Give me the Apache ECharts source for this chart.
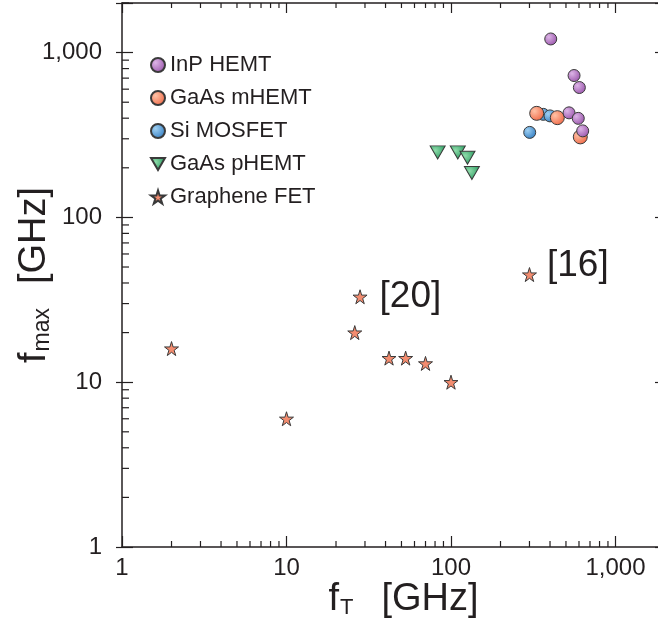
<!doctype html>
<html>

<head>
    <meta charset="utf-8">
    <title>fT vs fmax</title>
    <script src="https://cdn.jsdelivr.net/npm/echarts@6/dist/echarts.min.js"></script>
</head>

<body style="margin:0;">
    <div id="container" style="width:658px;height:623px;background:white;"></div>

    <script type="text/javascript">
        // 各器件的 fT / fmax (GHz)
        var inpFt = [404, 560, 603, 522, 594, 632];
        var inpFmax = [1210, 726, 614, 431, 399, 335];
        var mhemtFt = [332, 443, 611];
        var mhemtFmax = [428, 403, 308];
        var siFt = [364, 400, 301];
        var siFmax = [422, 413, 328];
        var phemtFt = [83, 110, 126, 134];
        var phemtFmax = [248, 248, 230, 186];
        var grapheneFt = [2, 10, 28, 26, 42, 53, 70, 100, 300];
        var grapheneFmax = [16, 6, 33, 20, 14, 14, 13, 10, 45];
        var grapheneRefs = ['', '', '[20]', '', '', '', '', '', '[16]'];
        // 坐标轴刻度标签
        var tickValues = [1, 10, 100, 1000];

        var ink = '#231f20';
        var font = '"Liberation Sans", Arial, sans-serif';
        var starPath = 'path://M50,0 L61,35 L98,35 L68,57 L79,91 L50,70 L21,91 L32,57 L2,35 L39,35 Z';
        var downTriangle = 'path://M0,0 L20,0 L10,17 Z';
        // 引用标签相对位置
        var refOffset = { '[20]': [2, 0], '[16]': [0, -9] };

        function pairs(xs, ys, refs) {
            var out = [];
            for (var i = 0; i < xs.length; i++) {
                var item = { value: [xs[i], ys[i]] };
                if (refs && refs[i]) {
                    item.label = { show: true, formatter: refs[i], offset: refOffset[refs[i]] };
                }
                out.push(item);
            }
            return out;
        }

        function ball(c1, c2) {
            return new echarts.graphic.RadialGradient(0.35, 0.35, 0.75, [
                { offset: 0, color: c1 }, { offset: 1, color: c2 }
            ]);
        }

        function tickLabel(v) {
            var r = Math.round(v);
            return tickValues.indexOf(r) >= 0 ? r.toLocaleString('en-US') : '';
        }

        function style(extra) {
            var s = { borderColor: '#3a3a3a', borderWidth: 1, opacity: 1 };
            for (var k in extra) s[k] = extra[k];
            return s;
        }

        var option = {
            animation: false,
            textStyle: { fontFamily: font, color: ink },
            grid: { left: 122, right: -7, top: 3, bottom: 76, outerBoundsMode: 'none', containLabel: false },
            legend: {
                data: [
                    { name: 'InP HEMT' }, { name: 'GaAs mHEMT' }, { name: 'Si MOSFET' },
                    { name: 'GaAs pHEMT', icon: downTriangle }, { name: 'Graphene FET' }
                ],
                orient: 'vertical',
                left: 145,
                top: 49,
                itemGap: 11,
                itemWidth: 14,
                itemHeight: 14,
                textStyle: { fontSize: 22, color: ink, fontFamily: font }
            },
            xAxis: [{
                type: 'log', min: 1, max: 2000, position: 'bottom',
                axisLine: { lineStyle: { color: ink, width: 1.5 } },
                axisTick: { inside: true, length: 11, lineStyle: { color: ink, width: 1.2 } },
                axisLabel: { fontSize: 24, color: ink, margin: 9, formatter: tickLabel, fontFamily: font },
                splitLine: { show: false },
                name: '{f|f}{s|T}{g|[GHz]}',
                nameLocation: 'middle',
                nameGap: 34,
                nameMoveOverlap: false,
                nameTextStyle: {
                    padding: [0, 0, 0, 20],
                    rich: {
                        f: { fontSize: 38, color: ink, fontFamily: font },
                        s: { fontSize: 22, color: ink, fontFamily: font, verticalAlign: 'bottom', padding: [14, 0, 0, 1] },
                        g: { fontSize: 38, color: ink, fontFamily: font, padding: [0, 0, 0, 28] }
                    }
                }
            }, {
                type: 'log', min: 1, max: 2000, position: 'top',
                axisLine: { lineStyle: { color: ink, width: 1.5 } },
                axisTick: { inside: true, length: 10, lineStyle: { color: ink, width: 1.2 } },
                axisLabel: { show: false },
                splitLine: { show: false }
            }],
            yAxis: [{
                type: 'log', min: 1, max: 2000, position: 'left',
                axisLine: { lineStyle: { color: ink, width: 1.5 } },
                axisTick: { inside: true, length: 11, lineStyle: { color: ink, width: 1.2 } },
                axisLabel: { fontSize: 24, color: ink, margin: 20, formatter: tickLabel, fontFamily: font },
                splitLine: { show: false },
                name: '{f|f}{s|max}{g|[GHz]}',
                nameLocation: 'middle',
                nameGap: 68,
                nameMoveOverlap: false,
                nameTextStyle: {
                    rich: {
                        f: { fontSize: 38, color: ink, fontFamily: font },
                        s: { fontSize: 23, color: ink, fontFamily: font, verticalAlign: 'bottom', padding: [14, 0, 0, 1] },
                        g: { fontSize: 38, color: ink, fontFamily: font, padding: [0, 0, 0, 24] }
                    }
                }
            }, {
                type: 'log', min: 1, max: 2000, position: 'left',
                axisLine: { show: false },
                axisTick: { inside: false, length: 6, lineStyle: { color: ink, width: 1.2 } },
                axisLabel: { show: false },
                splitLine: { show: false }
            }, {
                type: 'log', min: 1, max: 2000, position: 'right',
                axisLine: { lineStyle: { color: ink, width: 1.5 } },
                axisTick: { inside: true, length: 10, lineStyle: { color: ink, width: 1.2 } },
                axisLabel: { show: false },
                splitLine: { show: false }
            }],
            series: [{
                name: 'Si MOSFET', type: 'scatter', symbol: 'circle', symbolSize: 12,
                itemStyle: style({ color: ball('#9fd0f2', '#2c78bf') }),
                data: pairs(siFt, siFmax)
            }, {
                name: 'GaAs mHEMT', type: 'scatter', symbol: 'circle', symbolSize: 14,
                itemStyle: style({ color: ball('#ffc2a6', '#ef6441') }),
                data: pairs(mhemtFt, mhemtFmax)
            }, {
                name: 'InP HEMT', type: 'scatter', symbol: 'circle', symbolSize: 12,
                itemStyle: style({ color: ball('#dcb4e6', '#9650a8') }),
                data: pairs(inpFt, inpFmax)
            }, {
                name: 'GaAs pHEMT', type: 'scatter', symbol: downTriangle, symbolSize: [15, 13],
                itemStyle: style({ color: ball('#8fdcaa', '#21945a') }),
                data: pairs(phemtFt, phemtFmax)
            }, {
                name: 'Graphene FET', type: 'scatter', symbol: starPath, symbolSize: 14,
                itemStyle: style({ color: '#f38c6f' }),
                label: {
                    position: 'right', distance: 10,
                    fontSize: 37, color: ink, fontFamily: font
                },
                data: pairs(grapheneFt, grapheneFmax, grapheneRefs)
            }]
        };

        var myChart = echarts.init(document.getElementById('container'));
        myChart.setOption(option);

        // 对数轴的次刻度 (2..9 × 10^k)
        var children = [];
        var corner = myChart.convertToPixel('grid', [1, 1]);
        var topY = myChart.convertToPixel('grid', [1, 2000])[1];
        var left = corner[0], bottom = corner[1];
        function tick(x1, y1, x2, y2) {
            children.push({
                type: 'line', silent: true,
                shape: { x1: x1, y1: y1, x2: x2, y2: y2 },
                style: { stroke: ink, lineWidth: 1.2 }
            });
        }
        tickValues.forEach(function (d) {
            for (var m = 2; m <= 9; m++) {
                var v = d * m;
                if (v > 2000) break;
                var p = myChart.convertToPixel('grid', [v, v]);
                tick(p[0], bottom, p[0], bottom - 6);
                tick(p[0], topY, p[0], topY + 5);
                tick(left, p[1], left + 7, p[1]);
            }
        });
        myChart.setOption({ graphic: children });
    </script>
</body>

</html>
